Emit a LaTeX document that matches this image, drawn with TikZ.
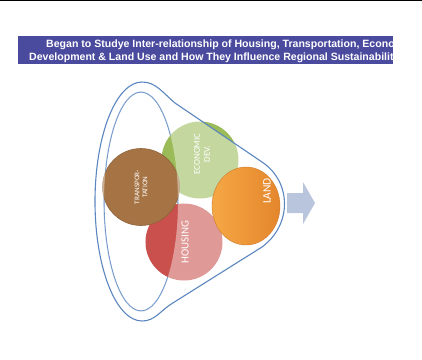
\documentclass[tikz,border=0pt]{standalone}
\usepackage{fontspec}
\setmainfont{Liberation Sans}
\newfontfamily\carl{Carlito}
\usetikzlibrary{shapes.geometric}
\definecolor{bannerblue}{HTML}{4A4A9E}
\definecolor{lineblue}{HTML}{5B86C0}
\definecolor{econgreen}{HTML}{9BBB59}
\definecolor{housered}{HTML}{C9504C}
\definecolor{transbrown}{HTML}{A67444}
\definecolor{landlight}{HTML}{F6A845}
\definecolor{landdark}{HTML}{E4862C}
\definecolor{arrowblue}{HTML}{B9C5DD}
\begin{document}
\begin{tikzpicture}[x=1bp,y=-1bp,
  funnelline/.style={draw=lineblue, line width=1.1bp},
  bubble/.style={circle, minimum size=77bp, inner sep=0pt},
  bubbletext/.style={text=white, font=\carl, align=center, rotate=90, inner sep=0pt},
  bannertext/.style={text=white, font=\bfseries\fontsize{10.6}{12}\selectfont, inner sep=0pt}]
\useasboundingbox (0,0) rectangle (422,360);
\fill[black] (0,0) rectangle (422,1.3);
% banner
\node[fill=bannerblue, minimum width=375bp, minimum height=28bp, anchor=north west, inner sep=0pt] (banner) at (18,36) {};
\begin{scope}
\clip (18,36) rectangle (393,64);
\node[bannertext, anchor=base west] (t1) at (46,47.8) {Began to Studye Inter-relationship of Housing, Transportation, Economic};
\node[bannertext, anchor=base west] (t2) at (29,60.3) {Development \& Land Use and How They Influence Regional Sustainability};
\end{scope}
% inner ellipse
\draw[funnelline] (141,201.5) ellipse [x radius=37, y radius=109.5];
% circles
\node[bubble, fill=econgreen] (econ) at (200,160) {};
\node[bubble, fill=housered] (house) at (184,242) {};
\node[bubble, fill=transbrown, draw=transbrown!85!black, line width=0.6bp] (trans) at (141,187) {};
% translucent funnel body
\fill[white, fill opacity=0.42, even odd rule]
  (142,82) .. controls (156,82) and (163,93) .. (175,103) -- (262,162)
  .. controls (292,182) and (292,225) .. (262,247) -- (172,303.5)
  .. controls (160,311) and (155,321) .. (142,321)
  .. controls (116,321) and (95,267.5) .. (95,201.5)
  .. controls (95,135.5) and (116,82) .. (142,82) -- cycle
  (141,201.5) ellipse [x radius=37, y radius=109.5];
% outer funnel outline
\draw[funnelline]
  (142,82) .. controls (156,82) and (163,93) .. (175,103) -- (262,162)
  .. controls (292,182) and (292,225) .. (262,247) -- (172,303.5)
  .. controls (160,311) and (155,321) .. (142,321)
  .. controls (116,321) and (95,267.5) .. (95,201.5)
  .. controls (95,135.5) and (116,82) .. (142,82) -- cycle;
% land
\node[ellipse, minimum width=68bp, minimum height=78bp, inner sep=0pt, left color=landlight, right color=landdark, draw=landdark!90!black, line width=0.4bp] (land) at (246,206) {};
% arrow
\fill[arrowblue] (287,193) -- (303,193) -- (303,182) -- (315,203) -- (303,224) -- (303,213) -- (287,213) -- cycle;
% labels
\node[bubbletext, font=\carl\fontsize{9}{10}\selectfont] (econlbl) at (202,154) {ECONOMIC\\DEV.};
\node[bubbletext, font=\carl\fontsize{11}{11}\selectfont] (houselbl) at (185,242) {HOUSING};
\node[bubbletext, font=\carl\fontsize{7.2}{8}\selectfont] (translbl) at (141,187) {TRANSPOR-\\TATION};
\node[bubbletext, font=\carl\fontsize{11.5}{12}\selectfont] (landlbl) at (267,191) {LAND};
\end{tikzpicture}
\end{document}
